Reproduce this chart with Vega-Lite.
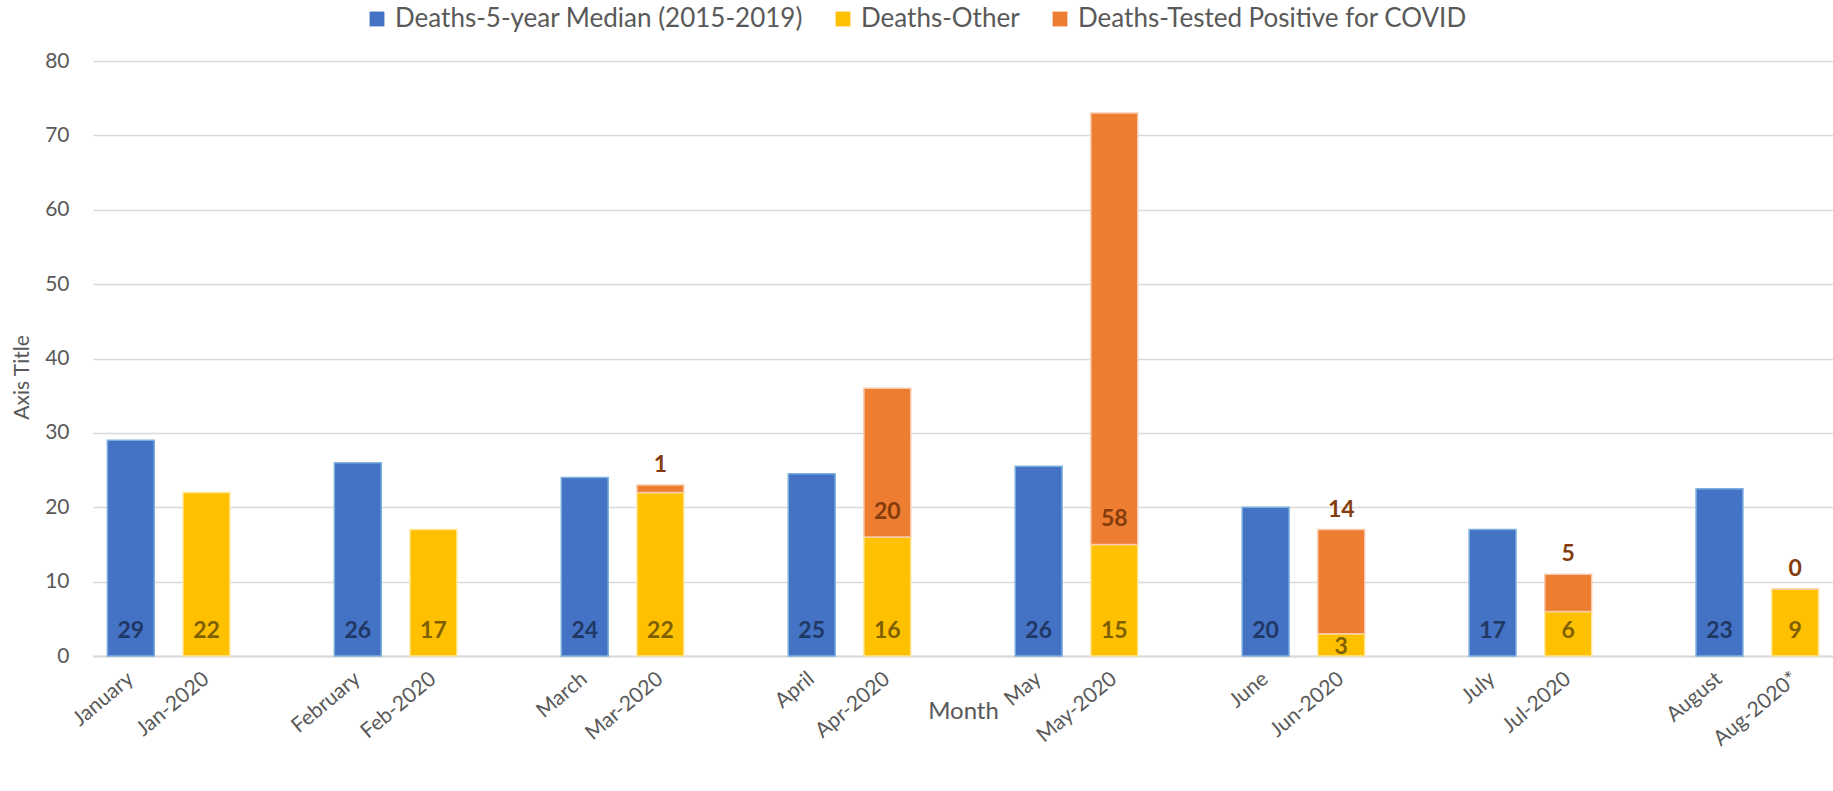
{
  "$schema": "https://vega.github.io/schema/vega-lite/v6.json",
  "width": 1740,
  "height": 595,
  "autosize": "none",
  "padding": {"left": 93, "top": 61, "right": 0, "bottom": 135},
  "background": "white",
  "config": {
    "font": "Lato",
    "view": {"stroke": null},
    "axis": {"labelColor": "#595959", "titleColor": "#595959", "titleFontWeight": "normal", "ticks": false}
  },
  "data": {
    "values": [
      {"cat": "January", "series": "Deaths-5-year Median (2015-2019)", "value": 29},
      {"cat": "Jan-2020", "series": "Deaths-Other", "value": 22},
      {"cat": "February", "series": "Deaths-5-year Median (2015-2019)", "value": 26},
      {"cat": "Feb-2020", "series": "Deaths-Other", "value": 17},
      {"cat": "March", "series": "Deaths-5-year Median (2015-2019)", "value": 24},
      {"cat": "Mar-2020", "series": "Deaths-Other", "value": 22},
      {"cat": "Mar-2020", "series": "Deaths-Tested Positive for COVID", "value": 1},
      {"cat": "April", "series": "Deaths-5-year Median (2015-2019)", "value": 24.5},
      {"cat": "Apr-2020", "series": "Deaths-Other", "value": 16},
      {"cat": "Apr-2020", "series": "Deaths-Tested Positive for COVID", "value": 20},
      {"cat": "May", "series": "Deaths-5-year Median (2015-2019)", "value": 25.5},
      {"cat": "May-2020", "series": "Deaths-Other", "value": 15},
      {"cat": "May-2020", "series": "Deaths-Tested Positive for COVID", "value": 58},
      {"cat": "June", "series": "Deaths-5-year Median (2015-2019)", "value": 20},
      {"cat": "Jun-2020", "series": "Deaths-Other", "value": 3},
      {"cat": "Jun-2020", "series": "Deaths-Tested Positive for COVID", "value": 14},
      {"cat": "July", "series": "Deaths-5-year Median (2015-2019)", "value": 17},
      {"cat": "Jul-2020", "series": "Deaths-Other", "value": 6},
      {"cat": "Jul-2020", "series": "Deaths-Tested Positive for COVID", "value": 5},
      {"cat": "August", "series": "Deaths-5-year Median (2015-2019)", "value": 22.5},
      {"cat": "Aug-2020*", "series": "Deaths-Other", "value": 9},
      {"cat": "Aug-2020*", "series": "Deaths-Tested Positive for COVID", "value": 0}
    ]
  },
  "transform": [
    {"stack": "value", "groupby": ["cat"], "sort": [{"field": "series", "order": "ascending"}], "as": ["v0", "v1"]}
  ],
  "encoding": {
    "x": {
      "field": "cat",
      "type": "nominal",
      "sort": null,
      "scale": {
        "domain": ["January", "Jan-2020", " ", "February", "Feb-2020", "  ", "March", "Mar-2020", "   ", "April", "Apr-2020", "    ", "May", "May-2020", "     ", "June", "Jun-2020", "      ", "July", "Jul-2020", "       ", "August", "Aug-2020*"],
        "paddingInner": 0.38,
        "paddingOuter": 0.19
      },
      "axis": {
        "title": "Month",
        "titleFontSize": 24,
        "titleY": 55,
        "titleBaseline": "middle",
        "labelAngle": -40,
        "labelAlign": "right",
        "labelBaseline": "middle",
        "labelFontSize": 21,
        "labelPadding": 20,
        "labelLimit": 0,
        "domain": true,
        "domainColor": "#d9d9d9",
        "domainWidth": 2,
        "grid": false
      }
    }
  },
  "layer": [
    {
      "mark": {"type": "bar", "strokeWidth": 1.5},
      "encoding": {
        "y": {
          "field": "v1",
          "type": "quantitative",
          "scale": {"domain": [0, 80], "nice": false},
          "axis": {
            "values": [0, 10, 20, 30, 40, 50, 60, 70, 80],
            "title": "Axis Title",
            "titleFontSize": 21,
            "titleAngle": -90,
            "titleX": -71,
            "titleY": 316,
            "titleAlign": "center",
            "titleBaseline": "middle",
            "labelFontSize": 21,
            "labelPadding": 24,
            "domain": false,
            "grid": true,
            "gridColor": "#d9d9d9",
            "gridWidth": 1.5
          }
        },
        "y2": {"field": "v0"},
        "color": {
          "field": "series",
          "type": "nominal",
          "scale": {
            "domain": ["Deaths-5-year Median (2015-2019)", "Deaths-Other", "Deaths-Tested Positive for COVID"],
            "range": ["#4472C4", "#FFC000", "#ED7D31"]
          },
          "legend": {
            "title": null,
            "orient": "none",
            "legendX": 271,
            "legendY": -55,
            "direction": "horizontal",
            "symbolType": "square",
            "symbolSize": 220,
            "symbolStrokeWidth": 0,
            "symbolOpacity": 1,
            "labelFontSize": 26,
            "labelColor": "#595959",
            "labelOffset": 5,
            "labelLimit": 0,
            "columnPadding": 27
          }
        },
        "stroke": {
          "field": "series",
          "type": "nominal",
          "scale": {
            "domain": ["Deaths-5-year Median (2015-2019)", "Deaths-Other", "Deaths-Tested Positive for COVID"],
            "range": ["#7CAFDD", "#FFE699", "#F8CBAD"]
          },
          "legend": null
        }
      }
    },
    {
      "transform": [{"filter": "datum.series == 'Deaths-5-year Median (2015-2019)'"}],
      "mark": {"type": "text", "fontSize": 23, "fontWeight": "bold", "color": "#203864", "dy": -25, "baseline": "middle"},
      "encoding": {
        "y": {"datum": 0, "type": "quantitative"},
        "text": {"field": "value", "type": "quantitative", "format": ".0f"}
      }
    },
    {
      "transform": [{"filter": "datum.series == 'Deaths-Other' && datum.value >= 5"}],
      "mark": {"type": "text", "fontSize": 23, "fontWeight": "bold", "color": "#7F6000", "dy": -25, "baseline": "middle"},
      "encoding": {
        "y": {"datum": 0, "type": "quantitative"},
        "text": {"field": "value", "type": "quantitative", "format": ".0f"}
      }
    },
    {
      "transform": [{"filter": "datum.series == 'Deaths-Other' && datum.value < 5"}],
      "mark": {"type": "text", "fontSize": 23, "fontWeight": "bold", "color": "#7F6000", "dy": -9, "baseline": "middle"},
      "encoding": {
        "y": {"datum": 0, "type": "quantitative"},
        "text": {"field": "value", "type": "quantitative", "format": ".0f"}
      }
    },
    {
      "transform": [{"filter": "datum.series == 'Deaths-Tested Positive for COVID' && datum.value >= 20"}],
      "mark": {"type": "text", "fontSize": 23, "fontWeight": "bold", "color": "#843C0C", "dy": -25, "baseline": "middle"},
      "encoding": {
        "y": {"field": "v0", "type": "quantitative"},
        "text": {"field": "value", "type": "quantitative", "format": ".0f"}
      }
    },
    {
      "transform": [{"filter": "datum.series == 'Deaths-Tested Positive for COVID' && datum.value < 20"}],
      "mark": {"type": "text", "fontSize": 23, "fontWeight": "bold", "color": "#843C0C", "dy": -20, "baseline": "middle"},
      "encoding": {
        "y": {"field": "v1", "type": "quantitative"},
        "text": {"field": "value", "type": "quantitative", "format": ".0f"}
      }
    }
  ]
}
